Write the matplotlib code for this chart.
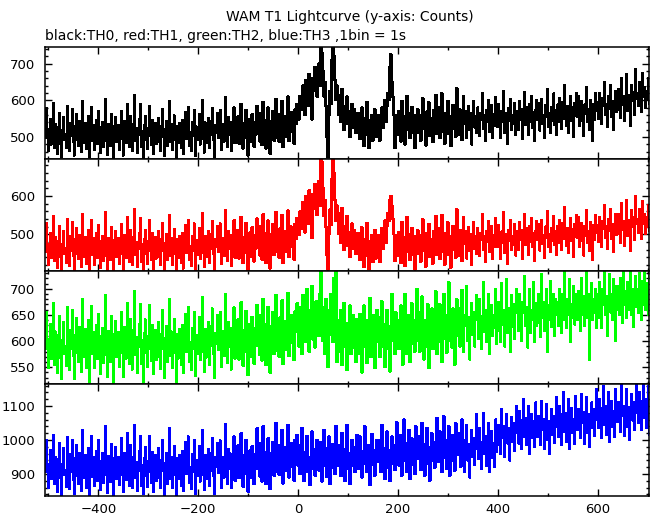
import numpy as np
import matplotlib.pyplot as plt
from matplotlib.ticker import MultipleLocator

# light curve bins: 2 s wide, each row holds 40 s, first row starts at -520 s
t_start = -520
row_span = 40
bin_width = 2

th0 = [
    [540, 472, 515, 561, 488, 452, 530, 497, 578, 506, 463, 521, 549, 480, 511, 592, 470, 535, 498, 455],
    [527, 566, 481, 446, 519, 553, 492, 508, 470, 584, 514, 461, 538, 502, 575, 487, 450, 529, 561, 493],
    [476, 544, 510, 459, 598, 521, 485, 537, 468, 503, 556, 445, 512, 581, 490, 533, 464, 520, 547, 482],
    [569, 498, 457, 526, 540, 474, 512, 603, 489, 451, 535, 518, 477, 562, 501, 443, 529, 553, 486, 515],
    [533, 466, 508, 571, 494, 450, 542, 519, 483, 590, 507, 472, 556, 498, 463, 536, 614, 490, 524, 458],
    [505, 548, 589, 472, 517, 440, 531, 556, 493, 467, 525, 583, 502, 478, 546, 454, 511, 537, 481, 528],
    [552, 486, 463, 530, 575, 501, 448, 522, 544, 476, 509, 597, 488, 534, 465, 515, 558, 493, 439, 530],
    [483, 538, 507, 470, 546, 455, 519, 568, 495, 526, 581, 477, 513, 461, 540, 502, 572, 449, 528, 491],
    [517, 561, 480, 495, 600, 511, 458, 539, 485, 523, 552, 470, 506, 544, 578, 492, 447, 531, 510, 565],
    [498, 547, 572, 466, 510, 535, 488, 609, 520, 474, 553, 506, 541, 462, 495, 527, 580, 483, 516, 538],
    [556, 481, 524, 590, 503, 469, 537, 512, 574, 495, 450, 528, 549, 486, 562, 514, 473, 541, 507, 585],
    [522, 565, 488, 539, 478, 596, 511, 547, 469, 526, 580, 502, 455, 543, 518, 571, 490, 532, 603, 497],
    [540, 487, 563, 515, 598, 473, 532, 556, 501, 545, 610, 489, 527, 568, 514, 552, 482, 575, 536, 590],
    [565, 548, 612, 590, 575, 640, 602, 560, 655, 618, 585, 672, 630, 596, 548, 660, 625, 690, 640, 610],
    [665, 700, 640, 760, 730, 680, 610, 650, 585, 500, 445, 560, 625, 590, 710, 760, 720, 655, 600, 640],
    [615, 560, 590, 540, 630, 575, 520, 585, 555, 610, 535, 570, 500, 560, 590, 525, 575, 540, 510, 565],
    [520, 565, 495, 540, 580, 510, 475, 550, 530, 595, 505, 470, 545, 520, 560, 490, 535, 575, 500, 540],
    [515, 560, 490, 545, 580, 525, 555, 600, 540, 585, 620, 600, 690, 725, 650, 610, 560, 470, 530, 560],
    [505, 570, 540, 488, 598, 525, 556, 480, 548, 612, 519, 566, 497, 535, 582, 510, 545, 470, 559, 528],
    [575, 512, 546, 490, 560, 605, 521, 538, 477, 569, 532, 594, 503, 550, 518, 486, 572, 541, 615, 509],
    [528, 580, 497, 553, 619, 515, 544, 482, 566, 530, 598, 509, 556, 475, 540, 587, 523, 561, 500, 633],
    [552, 506, 575, 530, 491, 560, 612, 536, 571, 498, 547, 584, 519, 565, 480, 540, 598, 526, 557, 510],
    [580, 535, 504, 566, 548, 620, 521, 558, 489, 573, 542, 601, 515, 550, 586, 497, 562, 530, 609, 541],
    [528, 590, 553, 497, 571, 540, 626, 512, 565, 548, 482, 578, 545, 603, 520, 560, 535, 592, 506, 571],
    [566, 520, 598, 548, 575, 495, 560, 622, 533, 580, 552, 507, 589, 541, 610, 526, 568, 490, 574, 600],
    [547, 592, 518, 571, 603, 535, 560, 498, 586, 555, 630, 528, 565, 512, 580, 545, 618, 533, 572, 506],
    [588, 540, 605, 560, 521, 596, 549, 640, 570, 530, 583, 512, 567, 611, 545, 580, 500, 592, 558, 620],
    [555, 612, 530, 578, 598, 545, 502, 588, 562, 635, 540, 575, 520, 600, 565, 490, 590, 548, 620, 570],
    [595, 550, 618, 572, 535, 605, 585, 650, 560, 590, 528, 612, 578, 640, 555, 598, 520, 585, 625, 568],
    [575, 630, 595, 552, 660, 588, 610, 545, 600, 672, 570, 615, 585, 530, 640, 598, 622, 560, 685, 605],
    [620, 585, 650, 598, 568, 675, 610, 635, 580, 625, 600, 660, 590, 615, 645, 575, 630, 602, 665, 610],
]

th1 = [
    [490, 428, 470, 515, 445, 402, 482, 455, 530, 466, 420, 475, 503, 438, 468, 548, 430, 492, 451, 412],
    [482, 520, 440, 405, 474, 508, 449, 463, 425, 540, 470, 418, 495, 457, 531, 444, 403, 486, 517, 450],
    [435, 498, 466, 415, 552, 477, 441, 493, 424, 459, 512, 401, 468, 537, 447, 489, 420, 476, 503, 439],
    [525, 455, 413, 482, 496, 430, 468, 558, 445, 404, 491, 474, 433, 518, 457, 400, 485, 509, 442, 471],
    [489, 423, 464, 527, 450, 406, 498, 475, 439, 545, 463, 428, 512, 454, 419, 492, 565, 446, 480, 414],
    [461, 504, 543, 428, 473, 398, 487, 512, 449, 423, 481, 538, 458, 434, 502, 410, 467, 493, 437, 484],
    [508, 442, 419, 486, 530, 457, 404, 478, 500, 432, 465, 551, 444, 490, 421, 471, 514, 449, 396, 486],
    [439, 494, 463, 426, 502, 411, 475, 524, 451, 482, 537, 433, 469, 417, 496, 458, 528, 405, 484, 447],
    [473, 517, 436, 451, 556, 467, 414, 495, 441, 479, 508, 426, 462, 500, 534, 448, 402, 487, 466, 521],
    [454, 503, 528, 422, 466, 491, 444, 563, 476, 430, 509, 462, 497, 418, 451, 483, 536, 439, 472, 494],
    [512, 437, 480, 546, 459, 425, 493, 468, 530, 451, 406, 484, 505, 442, 518, 470, 429, 497, 463, 541],
    [476, 521, 444, 495, 434, 552, 467, 503, 425, 482, 536, 458, 411, 499, 474, 527, 446, 488, 559, 453],
    [492, 439, 515, 467, 550, 425, 484, 508, 453, 497, 562, 441, 479, 520, 466, 504, 434, 527, 488, 542],
    [520, 498, 560, 535, 515, 585, 548, 505, 600, 562, 528, 615, 572, 538, 490, 605, 568, 632, 580, 550],
    [600, 640, 575, 700, 690, 620, 548, 590, 520, 445, 408, 500, 565, 525, 645, 700, 660, 590, 535, 575],
    [555, 500, 530, 478, 568, 512, 460, 522, 495, 548, 470, 505, 440, 498, 528, 463, 512, 478, 449, 503],
    [458, 502, 433, 478, 518, 448, 415, 488, 466, 530, 442, 410, 483, 458, 497, 428, 472, 512, 437, 476],
    [452, 497, 428, 482, 516, 462, 492, 536, 478, 520, 555, 535, 590, 600, 575, 540, 500, 430, 470, 498],
    [443, 506, 476, 425, 532, 461, 492, 417, 484, 545, 455, 501, 433, 471, 516, 446, 481, 408, 495, 464],
    [510, 449, 483, 428, 497, 539, 458, 475, 415, 504, 469, 527, 440, 487, 455, 423, 508, 478, 548, 446],
    [466, 515, 435, 490, 551, 453, 481, 421, 502, 468, 532, 447, 494, 413, 477, 522, 460, 498, 439, 565],
    [490, 445, 512, 468, 430, 497, 546, 474, 508, 437, 484, 519, 457, 501, 420, 478, 532, 463, 494, 449],
    [516, 473, 443, 502, 486, 553, 460, 495, 428, 509, 480, 535, 453, 487, 521, 436, 498, 468, 542, 479],
    [467, 525, 490, 436, 507, 478, 558, 451, 501, 485, 423, 512, 482, 537, 459, 496, 473, 526, 445, 507],
    [503, 459, 532, 486, 511, 436, 497, 553, 472, 515, 489, 447, 522, 480, 543, 466, 504, 431, 509, 534],
    [486, 527, 458, 508, 537, 474, 497, 439, 520, 492, 561, 466, 501, 453, 515, 483, 548, 472, 507, 447],
    [522, 478, 538, 496, 460, 530, 487, 570, 505, 469, 516, 452, 501, 543, 483, 514, 442, 526, 493, 551],
    [490, 544, 468, 512, 530, 483, 445, 521, 497, 563, 477, 509, 458, 532, 500, 432, 523, 486, 550, 505],
    [523, 480, 545, 503, 468, 534, 514, 575, 492, 520, 462, 540, 508, 566, 487, 526, 455, 515, 552, 498],
    [502, 553, 518, 478, 582, 511, 533, 470, 523, 590, 496, 538, 509, 457, 562, 520, 545, 485, 600, 527],
    [540, 505, 566, 518, 489, 587, 528, 552, 500, 545, 519, 575, 508, 534, 560, 496, 548, 520, 578, 530],
]

th2 = [
    [620, 558, 596, 641, 574, 530, 608, 585, 655, 593, 549, 603, 633, 566, 597, 672, 555, 618, 580, 540],
    [611, 648, 568, 528, 601, 637, 575, 590, 552, 665, 598, 545, 621, 585, 660, 572, 527, 612, 643, 577],
    [560, 626, 594, 541, 680, 604, 570, 622, 549, 586, 640, 523, 597, 666, 575, 617, 548, 605, 631, 566],
    [652, 583, 538, 610, 624, 559, 596, 688, 573, 531, 619, 602, 561, 647, 585, 520, 613, 638, 570, 599],
    [617, 551, 592, 656, 578, 532, 626, 603, 567, 673, 591, 556, 642, 582, 546, 620, 695, 574, 608, 540],
    [589, 633, 671, 556, 601, 522, 615, 641, 577, 551, 609, 668, 586, 562, 630, 538, 595, 621, 565, 612],
    [636, 570, 547, 614, 660, 585, 529, 606, 628, 560, 593, 680, 572, 618, 549, 599, 642, 577, 520, 614],
    [567, 622, 591, 554, 630, 539, 603, 652, 579, 610, 665, 561, 597, 545, 624, 586, 656, 533, 612, 575],
    [601, 645, 564, 579, 684, 595, 542, 623, 569, 607, 636, 554, 590, 628, 662, 576, 530, 615, 594, 649],
    [583, 631, 656, 550, 594, 619, 572, 690, 604, 558, 637, 590, 625, 546, 579, 611, 664, 567, 600, 622],
    [641, 565, 608, 674, 587, 553, 621, 596, 658, 579, 535, 612, 633, 570, 646, 598, 557, 625, 591, 669],
    [605, 650, 573, 624, 563, 681, 596, 632, 554, 611, 665, 587, 540, 628, 603, 656, 575, 617, 688, 582],
    [622, 570, 645, 598, 678, 556, 614, 638, 583, 627, 692, 571, 609, 650, 596, 634, 564, 657, 618, 672],
    [640, 590, 665, 612, 575, 688, 628, 652, 598, 700, 615, 580, 660, 635, 705, 603, 645, 588, 676, 625],
    [655, 610, 690, 740, 665, 600, 642, 575, 680, 625, 550, 612, 660, 690, 640, 598, 720, 650, 740, 560],
    [580, 640, 598, 660, 555, 625, 672, 590, 612, 545, 635, 602, 668, 575, 620, 650, 588, 628, 560, 642],
    [630, 575, 652, 600, 540, 622, 668, 590, 615, 558, 640, 605, 682, 570, 618, 595, 650, 548, 625, 660],
    [598, 645, 570, 620, 676, 590, 632, 550, 610, 660, 585, 628, 542, 615, 690, 600, 638, 575, 655, 605],
    [640, 585, 622, 668, 598, 555, 632, 690, 608, 575, 650, 612, 560, 628, 672, 595, 640, 580, 618, 700],
    [600, 655, 580, 628, 685, 610, 565, 640, 622, 590, 670, 548, 630, 605, 662, 585, 640, 612, 695, 575],
    [645, 598, 670, 620, 560, 635, 690, 605, 650, 578, 628, 712, 600, 640, 588, 662, 615, 555, 648, 680],
    [610, 662, 590, 640, 698, 620, 580, 650, 630, 705, 600, 645, 565, 628, 672, 612, 655, 590, 640, 688],
    [655, 605, 680, 630, 585, 648, 712, 618, 660, 598, 640, 690, 575, 635, 668, 610, 650, 625, 700, 595],
    [620, 675, 645, 598, 710, 632, 660, 590, 650, 718, 615, 662, 640, 580, 688, 628, 670, 605, 655, 700],
    [668, 620, 690, 640, 600, 675, 655, 725, 630, 665, 588, 650, 700, 615, 660, 640, 712, 598, 672, 630],
    [635, 690, 650, 608, 728, 645, 675, 620, 660, 700, 580, 668, 640, 715, 628, 655, 690, 610, 680, 650],
    [675, 630, 700, 655, 615, 690, 640, 735, 660, 625, 680, 650, 718, 598, 670, 645, 705, 632, 690, 660],
    [640, 695, 660, 620, 720, 650, 685, 630, 670, 735, 645, 690, 565, 665, 710, 640, 680, 655, 700, 625],
    [690, 645, 712, 660, 625, 700, 670, 738, 650, 685, 610, 675, 728, 655, 690, 640, 718, 665, 600, 705],
    [660, 705, 650, 720, 680, 635, 738, 670, 695, 645, 712, 660, 690, 740, 650, 700, 628, 685, 725, 665],
    [700, 655, 730, 680, 640, 715, 670, 740, 660, 695, 710, 650, 725, 685, 645, 705, 675, 738, 660, 690],
]

th3 = [
    [955, 880, 925, 980, 895, 842, 940, 905, 998, 918, 860, 930, 970, 885, 922, 1015, 870, 950, 900, 848],
    [942, 990, 890, 836, 930, 975, 898, 912, 862, 1008, 920, 855, 958, 905, 1000, 882, 840, 945, 985, 895],
    [872, 960, 918, 850, 1030, 935, 888, 955, 860, 905, 975, 838, 922, 1012, 892, 950, 865, 928, 968, 880],
    [1000, 910, 852, 938, 960, 875, 918, 1040, 896, 845, 952, 930, 878, 988, 908, 832, 945, 978, 885, 925],
    [950, 868, 915, 1005, 898, 846, 962, 930, 882, 1020, 912, 865, 985, 905, 858, 948, 1045, 890, 936, 850],
    [910, 968, 1012, 866, 925, 840, 945, 980, 895, 862, 938, 1010, 905, 875, 965, 848, 920, 955, 880, 942],
    [975, 890, 858, 940, 1000, 908, 838, 932, 962, 872, 918, 1035, 885, 950, 860, 925, 982, 896, 835, 945],
    [885, 955, 915, 865, 968, 850, 930, 995, 900, 940, 1010, 875, 920, 855, 958, 905, 1000, 842, 940, 895],
    [925, 982, 878, 898, 1030, 915, 852, 955, 885, 935, 972, 865, 910, 962, 1005, 895, 840, 948, 920, 990],
    [902, 965, 998, 860, 918, 950, 890, 1048, 932, 870, 972, 915, 960, 858, 900, 942, 1010, 880, 925, 955],
    [985, 888, 940, 1020, 910, 862, 955, 925, 1000, 898, 848, 945, 970, 890, 982, 928, 870, 958, 915, 1035],
    [935, 990, 892, 955, 878, 1040, 920, 965, 870, 940, 1005, 910, 855, 962, 930, 995, 895, 948, 1050, 905],
    [955, 898, 985, 930, 1030, 872, 945, 978, 908, 962, 1045, 890, 935, 990, 920, 968, 880, 1000, 945, 1015],
    [925, 985, 900, 955, 1035, 928, 880, 965, 942, 1012, 905, 950, 868, 938, 1025, 915, 972, 895, 958, 1000],
    [968, 910, 995, 940, 878, 960, 1030, 925, 975, 892, 948, 1010, 870, 945, 988, 918, 965, 900, 1040, 930],
    [925, 985, 950, 895, 1020, 940, 972, 880, 955, 1045, 915, 962, 870, 938, 1000, 925, 978, 905, 950, 1015],
    [975, 915, 1010, 945, 890, 968, 930, 1040, 955, 905, 985, 940, 868, 960, 1018, 928, 970, 895, 950, 1000],
    [935, 1000, 960, 905, 1045, 948, 975, 885, 962, 1025, 918, 970, 880, 945, 1010, 930, 985, 912, 955, 1052],
    [980, 925, 1015, 950, 895, 975, 1060, 938, 990, 905, 962, 1030, 885, 955, 1005, 928, 972, 900, 1040, 945],
    [945, 1010, 965, 912, 1050, 955, 988, 895, 970, 1035, 930, 978, 880, 958, 1020, 940, 995, 918, 965, 1065],
    [990, 935, 1025, 960, 905, 985, 1070, 948, 1000, 915, 972, 1040, 895, 965, 1015, 938, 982, 910, 1050, 955],
    [955, 1020, 975, 922, 1060, 965, 998, 905, 980, 1045, 940, 988, 890, 968, 1030, 950, 1005, 928, 975, 1075],
    [1000, 945, 1035, 970, 915, 995, 1080, 958, 1010, 925, 982, 1050, 905, 975, 1025, 948, 992, 920, 1060, 965],
    [985, 1045, 1020, 960, 1090, 1005, 1040, 950, 1025, 1075, 990, 1035, 940, 1012, 1068, 995, 1050, 968, 1020, 1100],
    [1050, 990, 1085, 1030, 975, 1060, 1120, 1010, 1065, 985, 1040, 1100, 960, 1030, 1075, 1005, 1055, 980, 1110, 1025],
    [1010, 1070, 1040, 985, 1115, 1030, 1062, 975, 1050, 1105, 1000, 1055, 960, 1035, 1090, 1015, 1070, 992, 1040, 1125],
    [1068, 1010, 1100, 1040, 985, 1075, 1140, 1025, 1080, 995, 1055, 1120, 975, 1045, 1095, 1020, 1062, 990, 1130, 1040],
    [1030, 1090, 1060, 1005, 1135, 1050, 1082, 990, 1070, 1125, 1020, 1075, 980, 1055, 1110, 1035, 1090, 1012, 1060, 1150],
    [1090, 1035, 1120, 1062, 1005, 1095, 1160, 1045, 1100, 1015, 1075, 1140, 995, 1068, 1115, 1040, 1085, 1010, 1150, 1060],
    [1055, 1110, 1082, 1025, 1165, 1070, 1100, 1012, 1090, 1150, 1040, 1098, 1000, 1075, 1135, 1058, 1110, 1030, 1080, 1170],
    [1110, 1050, 1140, 1085, 1030, 1115, 1170, 1065, 1120, 1035, 1095, 1160, 1015, 1088, 1135, 1060, 1105, 1040, 1168, 1080],
]

series = [th0, th1, th2, th3]
colors = ["#000000", "#ff0000", "#00ff00", "#0000ff"]
ylims = [(440, 745), (404, 697), (518, 734), (835, 1165)]
majors = [100, 100, 50, 100]
minors = [20, 20, 10, 20]

W, H = 652, 515
left_px, right_px = 45, 649
edges_px = [47, 159, 271, 384, 496]

plt.rcParams["font.family"] = "DejaVu Sans"
fig = plt.figure(figsize=(W / 100, H / 100), dpi=100)

for i, rows in enumerate(series):
    time = np.concatenate([t_start + row_span * r + bin_width * np.arange(len(row))
                           for r, row in enumerate(rows)])
    vals = np.concatenate(rows)
    top, bot = edges_px[i], edges_px[i + 1]
    ax = fig.add_axes([left_px / W, 1 - bot / H, (right_px - left_px) / W, (bot - top) / H])
    ax.plot(time, vals, drawstyle="steps-mid", color=colors[i], lw=1.0, antialiased=False)
    ax.set_xlim(-507, 703)
    ax.set_ylim(*ylims[i])
    ax.xaxis.set_major_locator(MultipleLocator(200))
    ax.xaxis.set_minor_locator(MultipleLocator(100))
    ax.yaxis.set_major_locator(MultipleLocator(majors[i]))
    ax.yaxis.set_minor_locator(MultipleLocator(minors[i]))
    ax.tick_params(which="both", direction="in", top=True, right=True, width=1.0, labelsize=9.5)
    ax.tick_params(which="major", length=5)
    ax.tick_params(which="minor", length=2.5)
    ax.tick_params(axis="y", pad=7)
    ax.tick_params(axis="x", pad=5)
    for s in ax.spines.values():
        s.set_linewidth(1.1)
    if i < 3:
        ax.tick_params(labelbottom=False)

fig.text(350 / W, 1 - 17 / H, "WAM T1 Lightcurve (y-axis: Counts)", ha="center", va="center", fontsize=10)
fig.text(45 / W, 1 - 36 / H, "black:TH0, red:TH1, green:TH2, blue:TH3 ,1bin = 1s",
         ha="left", va="center", fontsize=10)

fig.savefig("out.png", dpi=100)
